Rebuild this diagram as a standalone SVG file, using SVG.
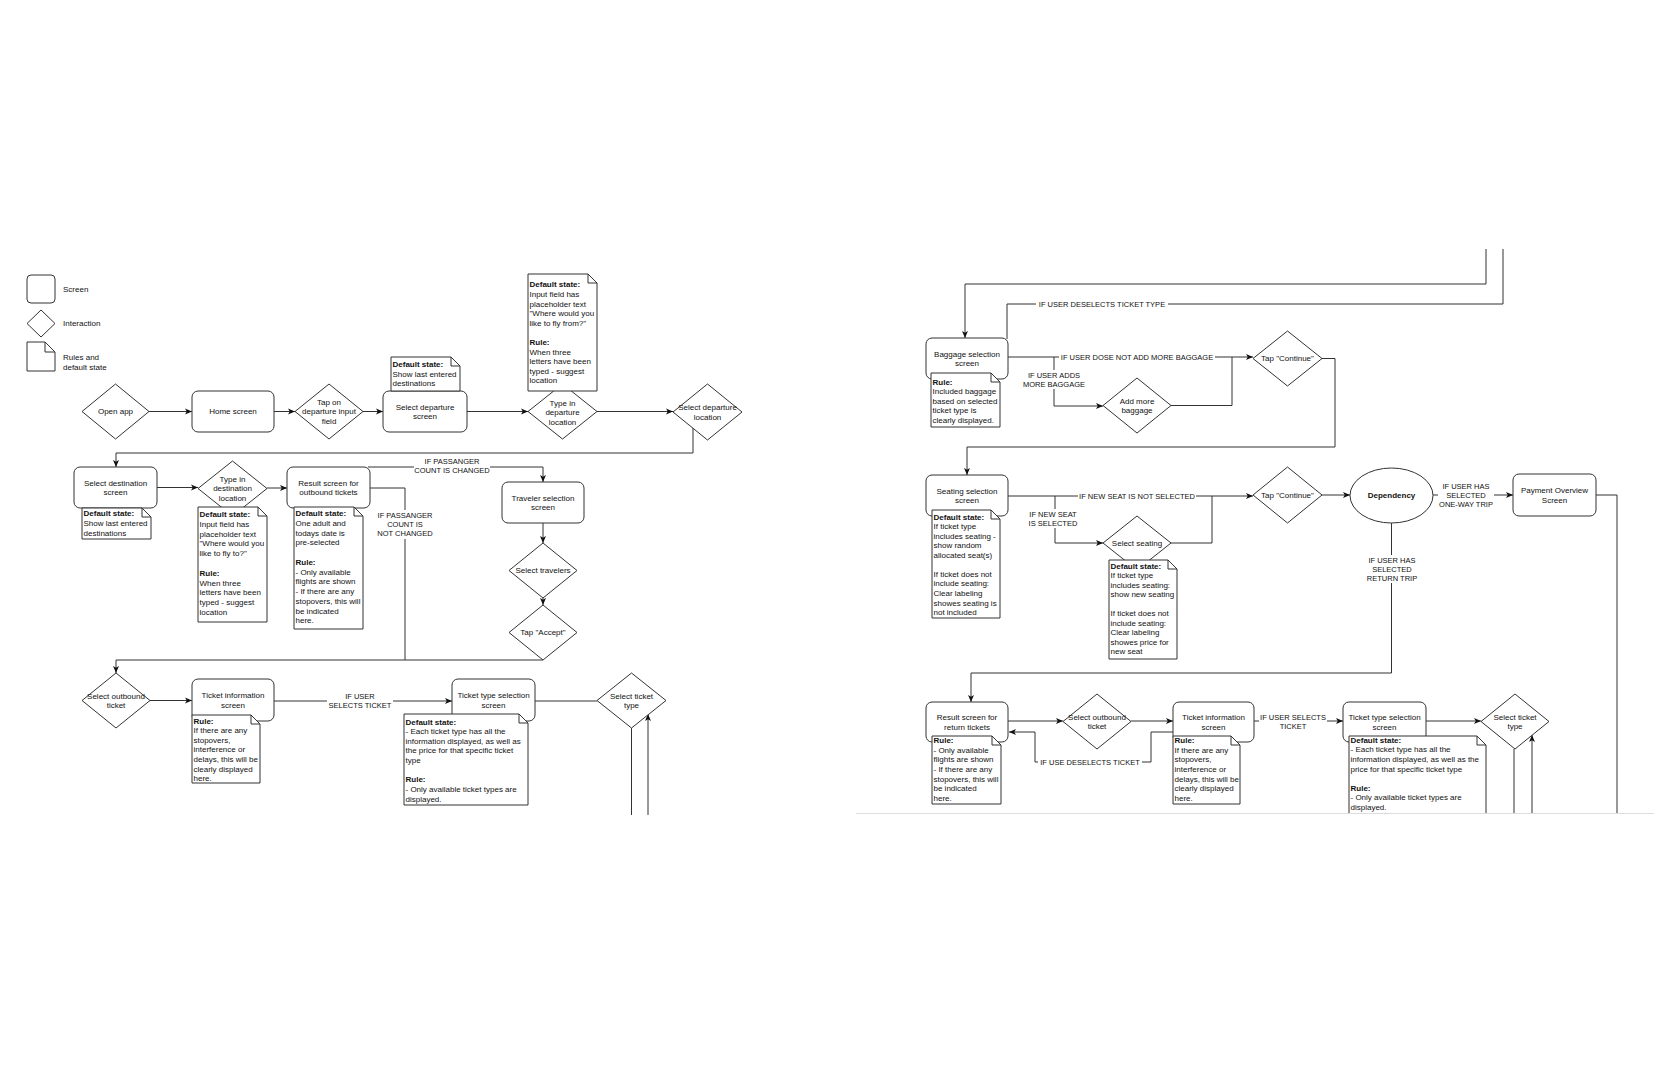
<svg xmlns="http://www.w3.org/2000/svg" width="1654" height="1080" viewBox="0 0 1654 1080">
<defs>
<style>
text{font-family:"Liberation Sans",Arial,Helvetica,sans-serif;fill:#111}
.t{font-size:8px;text-anchor:middle}
.n{font-size:8px}
.b{font-weight:bold}
.e{font-size:7.5px;text-anchor:middle}
.shape{fill:#fff;stroke:#333;stroke-width:1}
.ln{fill:none;stroke:#333;stroke-width:1}
.lbg{fill:#fff;stroke:none}
</style>
<marker id="arr" viewBox="0 0 8 8" refX="8" refY="4" markerWidth="7" markerHeight="7" orient="auto" markerUnits="userSpaceOnUse">
<path d="M0,0.6 L8,4 L0,7.4 L2,4 Z" fill="#111"/>
</marker>
</defs>
<rect width="1654" height="1080" fill="#fff"/>

<g id="legend">
<rect class="shape" x="27" y="275" width="28" height="28" rx="4"/>
<text class="n" x="63" y="292">Screen</text>
<polygon class="shape" points="41,310 55,323.5 41,337 27,323.5"/>
<text class="n" x="63" y="326">Interaction</text>
<path class="shape" d="M27,342H45L55,352V371H27Z"/>
<path class="ln" d="M45,342V352H55"/>
<text class="n" x="63" y="360">Rules and</text>
<text class="n" x="63" y="369.5">default state</text>
</g>

<g id="connectors">
<path class="ln" d="M149,411.5H192" marker-end="url(#arr)"/>
<path class="ln" d="M274,411.5H295" marker-end="url(#arr)"/>
<path class="ln" d="M363,411.5H383" marker-end="url(#arr)"/>
<path class="ln" d="M467,411.5H528" marker-end="url(#arr)"/>
<path class="ln" d="M597,411.5H673" marker-end="url(#arr)"/>
<path class="ln" d="M693,428V453H116V467" marker-end="url(#arr)"/>
<path class="ln" d="M157,487.5H198" marker-end="url(#arr)"/>
<path class="ln" d="M267,488H287" marker-end="url(#arr)"/>
<path class="ln" d="M368,467H543V482" marker-end="url(#arr)"/>
<path class="ln" d="M370,488H405V660"/>
<path class="ln" d="M543,523V543" marker-end="url(#arr)"/>
<path class="ln" d="M543,598V605" marker-end="url(#arr)"/>
<path class="ln" d="M543,660H116V673" marker-end="url(#arr)"/>
<path class="ln" d="M150,700.5H192" marker-end="url(#arr)"/>
<path class="ln" d="M274,701H452" marker-end="url(#arr)"/>
<path class="ln" d="M535,701H597"/>
<path class="ln" d="M631.5,728V815"/>
<path class="ln" d="M648,815V714" marker-end="url(#arr)"/>

<path class="ln" d="M1486,249V284H965V338" marker-end="url(#arr)"/>
<path class="ln" d="M1503,249V304H1007V339"/>
<path class="ln" d="M1008,357H1253" marker-end="url(#arr)"/>
<path class="ln" d="M1054,357V406H1103" marker-end="url(#arr)"/>
<path class="ln" d="M1171,405.5H1232V357"/>
<path class="ln" d="M1322,358.5H1335V447H967V475" marker-end="url(#arr)"/>
<path class="ln" d="M1008,496H1253" marker-end="url(#arr)"/>
<path class="ln" d="M1055,496V543H1103" marker-end="url(#arr)"/>
<path class="ln" d="M1171,543H1212V496"/>
<path class="ln" d="M1322,495H1350" marker-end="url(#arr)"/>
<path class="ln" d="M1433,495H1513" marker-end="url(#arr)"/>
<path class="ln" d="M1596,495H1617V813"/>
<path class="ln" d="M1391.5,523V673H971V702" marker-end="url(#arr)"/>
<path class="ln" d="M1008,721H1063" marker-end="url(#arr)"/>
<path class="ln" d="M1131,721H1173" marker-end="url(#arr)"/>
<path class="ln" d="M1173,732H1151V762H1035V732H1009" marker-end="url(#arr)"/>
<path class="ln" d="M1254,721H1343" marker-end="url(#arr)"/>
<path class="ln" d="M1426,721H1481" marker-end="url(#arr)"/>
<path class="ln" d="M1514,749V813"/>
<path class="ln" d="M1532,813V735" marker-end="url(#arr)"/>

<rect class="lbg" x="414" y="457" width="76" height="19"/>
<text class="e" x="452" y="464.3">IF PASSANGER</text>
<text class="e" x="452" y="473.3">COUNT IS CHANGED</text>
<rect class="lbg" x="376" y="510" width="58" height="29"/>
<text class="e" x="405" y="518.3">IF PASSANGER</text>
<text class="e" x="405" y="527.3">COUNT IS</text>
<text class="e" x="405" y="536.3">NOT CHANGED</text>
<rect class="lbg" x="327" y="692" width="66" height="19"/>
<text class="e" x="360" y="699.3">IF USER</text>
<text class="e" x="360" y="708.3">SELECTS TICKET</text>
<rect class="lbg" x="1036" y="299" width="132" height="10"/>
<text class="e" x="1102" y="306.6">IF USER DESELECTS TICKET TYPE</text>
<rect class="lbg" x="1059" y="352" width="156" height="10"/>
<text class="e" x="1137" y="359.8">IF USER DOSE NOT ADD MORE BAGGAGE</text>
<rect class="lbg" x="1022" y="370" width="64" height="19"/>
<text class="e" x="1054" y="377.6">IF USER ADDS</text>
<text class="e" x="1054" y="386.9">MORE BAGGAGE</text>
<rect class="lbg" x="1078" y="491" width="118" height="10"/>
<text class="e" x="1137" y="498.6">IF NEW SEAT IS NOT SELECTED</text>
<rect class="lbg" x="1028" y="509" width="50" height="19"/>
<text class="e" x="1053" y="516.6">IF NEW SEAT</text>
<text class="e" x="1053" y="525.9">IS SELECTED</text>
<rect class="lbg" x="1438" y="481" width="56" height="28"/>
<text class="e" x="1466" y="488.6">IF USER HAS</text>
<text class="e" x="1466" y="497.6">SELECTED</text>
<text class="e" x="1466" y="506.6">ONE-WAY TRIP</text>
<rect class="lbg" x="1366" y="555" width="52" height="28"/>
<text class="e" x="1392" y="562.6">IF USER HAS</text>
<text class="e" x="1392" y="571.9">SELECTED</text>
<text class="e" x="1392" y="580.9">RETURN TRIP</text>
<rect class="lbg" x="1038" y="757" width="104" height="10"/>
<text class="e" x="1090" y="764.6">IF USE DESELECTS TICKET</text>
<rect class="lbg" x="1259" y="712" width="68" height="19"/>
<text class="e" x="1293" y="719.9">IF USER SELECTS</text>
<text class="e" x="1293" y="728.6">TICKET</text>
</g>

<g id="open-app"><polygon class="shape" points="115.5,384 149,411.5 115.5,439 82,411.5"/><text class="t" x="115.5" y="414.3">Open app</text></g>
<g id="home-screen"><rect class="shape" x="192" y="391" width="82" height="41" rx="6"/><text class="t" x="233" y="414.3">Home screen</text></g>
<g id="tap-departure"><polygon class="shape" points="329,384 363,411.5 329,439 295,411.5"/><text class="t" x="329" y="404.7">Tap on</text><text class="t" x="329" y="414.3">departure input</text><text class="t" x="329" y="423.9">field</text></g>
<g id="select-departure-screen"><rect class="shape" x="383" y="391" width="84" height="41" rx="6"/><text class="t" x="425" y="409.5">Select departure</text><text class="t" x="425" y="419.1">screen</text></g>
<g id="type-departure"><polygon class="shape" points="562.5,384 597,411.5 562.5,439 528,411.5"/><text class="t" x="562.5" y="405.5">Type in</text><text class="t" x="562.5" y="415.1">departure</text><text class="t" x="562.5" y="424.7">location</text></g>
<g id="select-departure-location"><polygon class="shape" points="707.5,384 742,412 707.5,440 673,412"/><text class="t" x="707.5" y="410">Select departure</text><text class="t" x="707.5" y="419.6">location</text></g>

<g id="select-destination-screen"><rect class="shape" x="74" y="467" width="83" height="41" rx="6"/><text class="t" x="115.5" y="485.5">Select destination</text><text class="t" x="115.5" y="495.1">screen</text></g>
<g id="type-destination"><polygon class="shape" points="232.5,461 267,488.5 232.5,516 198,488.5"/><text class="t" x="232.5" y="481.7">Type in</text><text class="t" x="232.5" y="491.3">destination</text><text class="t" x="232.5" y="500.9">location</text></g>
<g id="result-outbound"><rect class="shape" x="287" y="467" width="83" height="41" rx="6"/><text class="t" x="328.5" y="485.5">Result screen for</text><text class="t" x="328.5" y="495.1">outbound tickets</text></g>
<g id="traveler-selection"><rect class="shape" x="502" y="482" width="82" height="41" rx="6"/><text class="t" x="543" y="500.5">Traveler selection</text><text class="t" x="543" y="510.1">screen</text></g>
<g id="select-travelers"><polygon class="shape" points="543,543 577,570.5 543,598 509,570.5"/><text class="t" x="543" y="573.3">Select travelers</text></g>
<g id="tap-accept"><polygon class="shape" points="543,605 577,632.5 543,660 509,632.5"/><text class="t" x="543" y="635.3">Tap "Accept"</text></g>

<g id="select-outbound-ticket"><polygon class="shape" points="116,673 150,700.5 116,728 82,700.5"/><text class="t" x="116" y="698.5">Select outbound</text><text class="t" x="116" y="708.1">ticket</text></g>
<g id="ticket-info-1"><rect class="shape" x="192" y="679" width="82" height="42" rx="6"/><text class="t" x="233" y="698">Ticket information</text><text class="t" x="233" y="707.6">screen</text></g>
<g id="ticket-type-1"><rect class="shape" x="452" y="679" width="83" height="42" rx="6"/><text class="t" x="493.5" y="698">Ticket type selection</text><text class="t" x="493.5" y="707.6">screen</text></g>
<g id="select-ticket-type-1"><polygon class="shape" points="631.5,673 666,700.5 631.5,728 597,700.5"/><text class="t" x="631.5" y="698.5">Select ticket</text><text class="t" x="631.5" y="708.1">type</text></g>

<g id="baggage-screen"><rect class="shape" x="926" y="338" width="82" height="41" rx="6"/><text class="t" x="967" y="356.5">Baggage selection</text><text class="t" x="967" y="366.1">screen</text></g>
<g id="add-baggage"><polygon class="shape" points="1137,378 1171,405.5 1137,433 1103,405.5"/><text class="t" x="1137" y="403.5">Add more</text><text class="t" x="1137" y="413.1">baggage</text></g>
<g id="tap-continue-1"><polygon class="shape" points="1287.5,331 1322,358.5 1287.5,386 1253,358.5"/><text class="t" x="1287.5" y="361.3">Tap "Continue"</text></g>
<g id="seating-screen"><rect class="shape" x="926" y="475" width="82" height="41" rx="6"/><text class="t" x="967" y="493.5">Seating selection</text><text class="t" x="967" y="503.1">screen</text></g>
<g id="select-seating"><polygon class="shape" points="1137,516 1171,543 1137,570 1103,543"/><text class="t" x="1137" y="545.8">Select seating</text></g>
<g id="tap-continue-2"><polygon class="shape" points="1287.5,467 1322,495 1287.5,523 1253,495"/><text class="t" x="1287.5" y="497.8">Tap "Continue"</text></g>
<g id="dependency"><ellipse class="shape" cx="1391.5" cy="495.5" rx="41.5" ry="27.5"/><text class="t b" x="1391.5" y="498.3">Dependency</text></g>
<g id="payment-overview"><rect class="shape" x="1513" y="474" width="83" height="42" rx="6"/><text class="t" x="1554.5" y="493">Payment Overview</text><text class="t" x="1554.5" y="502.6">Screen</text></g>
<g id="result-return"><rect class="shape" x="926" y="702" width="82" height="40" rx="6"/><text class="t" x="967" y="720">Result screen for</text><text class="t" x="967" y="729.6">return tickets</text></g>
<g id="select-outbound-ticket-2"><polygon class="shape" points="1097,694 1131,721.5 1097,749 1063,721.5"/><text class="t" x="1097" y="719.5">Select outbound</text><text class="t" x="1097" y="729.1">ticket</text></g>
<g id="ticket-info-2"><rect class="shape" x="1173" y="702" width="81" height="40" rx="6"/><text class="t" x="1213.5" y="720">Ticket information</text><text class="t" x="1213.5" y="729.6">screen</text></g>
<g id="ticket-type-2"><rect class="shape" x="1343" y="702" width="83" height="40" rx="6"/><text class="t" x="1384.5" y="720">Ticket type selection</text><text class="t" x="1384.5" y="729.6">screen</text></g>
<g id="select-ticket-type-2"><polygon class="shape" points="1515,694 1549,721.5 1515,749 1481,721.5"/><text class="t" x="1515" y="719.5">Select ticket</text><text class="t" x="1515" y="729.1">type</text></g>

<g id="note-select-departure"><path class="shape" d="M391,357H451L460,366V391H391Z"/><path class="ln" d="M451,357V366H460"/>
<text class="n" x="392.5" y="367.2"><tspan class="b">Default state:</tspan><tspan x="392.5" dy="9.6">Show last entered</tspan><tspan x="392.5" dy="9.6">destinations</tspan></text></g>
<g id="note-type-departure"><path class="shape" d="M528,274H588L597,283V391H528Z"/><path class="ln" d="M588,274V283H597"/>
<text class="n" x="529.5" y="287.3"><tspan class="b">Default state:</tspan><tspan x="529.5" dy="9.6">Input field has</tspan><tspan x="529.5" dy="9.6">placeholder text</tspan><tspan x="529.5" dy="9.6">"Where would you</tspan><tspan x="529.5" dy="9.6">like to fly from?"</tspan><tspan x="529.5" dy="19.2" class="b">Rule:</tspan><tspan x="529.5" dy="9.6">When three</tspan><tspan x="529.5" dy="9.6">letters have been</tspan><tspan x="529.5" dy="9.6">typed - suggest</tspan><tspan x="529.5" dy="9.6">location</tspan></text></g>
<g id="note-select-destination"><path class="shape" d="M82,508H142L151,517V539H82Z"/><path class="ln" d="M142,508V517H151"/>
<text class="n" x="83.5" y="516.3"><tspan class="b">Default state:</tspan><tspan x="83.5" dy="9.6">Show last entered</tspan><tspan x="83.5" dy="9.6">destinations</tspan></text></g>
<g id="note-type-destination"><path class="shape" d="M198,507H258L267,516V622H198Z"/><path class="ln" d="M258,507V516H267"/>
<text class="n" x="199.5" y="517"><tspan class="b">Default state:</tspan><tspan x="199.5" dy="9.8">Input field has</tspan><tspan x="199.5" dy="9.8">placeholder text</tspan><tspan x="199.5" dy="9.8">"Where would you</tspan><tspan x="199.5" dy="9.8">like to fly to?"</tspan><tspan x="199.5" dy="19.6" class="b">Rule:</tspan><tspan x="199.5" dy="9.8">When three</tspan><tspan x="199.5" dy="9.8">letters have been</tspan><tspan x="199.5" dy="9.8">typed - suggest</tspan><tspan x="199.5" dy="9.8">location</tspan></text></g>
<g id="note-result-outbound"><path class="shape" d="M294,507H354L363,516V629H294Z"/><path class="ln" d="M354,507V516H363"/>
<text class="n" x="295.5" y="516"><tspan class="b">Default state:</tspan><tspan x="295.5" dy="9.75">One adult and</tspan><tspan x="295.5" dy="9.75">todays date is</tspan><tspan x="295.5" dy="9.75">pre-selected</tspan><tspan x="295.5" dy="19.5" class="b">Rule:</tspan><tspan x="295.5" dy="9.75">- Only available</tspan><tspan x="295.5" dy="9.75">flights are shown</tspan><tspan x="295.5" dy="9.75">- If there are any</tspan><tspan x="295.5" dy="9.75">stopovers, this will</tspan><tspan x="295.5" dy="9.75">be indicated</tspan><tspan x="295.5" dy="9.75">here.</tspan></text></g>
<g id="note-ticket-info-1"><path class="shape" d="M192,715H251L260,724V783H192Z"/><path class="ln" d="M251,715V724H260"/>
<text class="n" x="193.5" y="723.5"><tspan class="b">Rule:</tspan><tspan x="193.5" dy="9.6">If there are any</tspan><tspan x="193.5" dy="9.6">stopovers,</tspan><tspan x="193.5" dy="9.6">interference or</tspan><tspan x="193.5" dy="9.6">delays, this will be</tspan><tspan x="193.5" dy="9.6">clearly displayed</tspan><tspan x="193.5" dy="9.6">here.</tspan></text></g>
<g id="note-ticket-type-1"><path class="shape" d="M404,714H519L528,723V805H404Z"/><path class="ln" d="M519,714V723H528"/>
<text class="n" x="405.5" y="724.5"><tspan class="b">Default state:</tspan><tspan x="405.5" dy="9.66">- Each ticket type has all the</tspan><tspan x="405.5" dy="9.66">information displayed, as well as</tspan><tspan x="405.5" dy="9.66">the price for that specific ticket</tspan><tspan x="405.5" dy="9.66">type</tspan><tspan x="405.5" dy="19.32" class="b">Rule:</tspan><tspan x="405.5" dy="9.66">- Only available ticket types are</tspan><tspan x="405.5" dy="9.66">displayed.</tspan></text></g>
<g id="note-baggage"><path class="shape" d="M931,373H991L1000,382V427H931Z"/><path class="ln" d="M991,373V382H1000"/>
<text class="n" x="932.5" y="384.5"><tspan class="b">Rule:</tspan><tspan x="932.5" dy="9.6">Included baggage</tspan><tspan x="932.5" dy="9.6">based on selected</tspan><tspan x="932.5" dy="9.6">ticket type is</tspan><tspan x="932.5" dy="9.6">clearly displayed.</tspan></text></g>
<g id="note-seating"><path class="shape" d="M932,510H991L1000,519V618H932Z"/><path class="ln" d="M991,510V519H1000"/>
<text class="n" x="933.5" y="519.5"><tspan class="b">Default state:</tspan><tspan x="933.5" dy="9.56">If ticket type</tspan><tspan x="933.5" dy="9.56">includes seating -</tspan><tspan x="933.5" dy="9.56">show random</tspan><tspan x="933.5" dy="9.56">allocated seat(s)</tspan><tspan x="933.5" dy="19.12">If ticket does not</tspan><tspan x="933.5" dy="9.56">include seating:</tspan><tspan x="933.5" dy="9.56">Clear labeling</tspan><tspan x="933.5" dy="9.56">showes seating is</tspan><tspan x="933.5" dy="9.56">not included</tspan></text></g>
<g id="note-select-seating"><path class="shape" d="M1109,560H1168L1177,569V659H1109Z"/><path class="ln" d="M1168,560V569H1177"/>
<text class="n" x="1110.5" y="568.8"><tspan class="b">Default state:</tspan><tspan x="1110.5" dy="9.52">If ticket type</tspan><tspan x="1110.5" dy="9.52">includes seating:</tspan><tspan x="1110.5" dy="9.52">show new seating</tspan><tspan x="1110.5" dy="19.04">If ticket does not</tspan><tspan x="1110.5" dy="9.52">include seating:</tspan><tspan x="1110.5" dy="9.52">Clear labeling</tspan><tspan x="1110.5" dy="9.52">showes price for</tspan><tspan x="1110.5" dy="9.52">new seat</tspan></text></g>
<g id="note-result-return"><path class="shape" d="M932,736H992L1001,745V804H932Z"/><path class="ln" d="M992,736V745H1001"/>
<text class="n" x="933.5" y="742.8"><tspan class="b">Rule:</tspan><tspan x="933.5" dy="9.7">- Only available</tspan><tspan x="933.5" dy="9.7">flights are shown</tspan><tspan x="933.5" dy="9.7">- If there are any</tspan><tspan x="933.5" dy="9.7">stopovers, this will</tspan><tspan x="933.5" dy="9.7">be indicated</tspan><tspan x="933.5" dy="9.7">here.</tspan></text></g>
<g id="note-ticket-info-2"><path class="shape" d="M1173,736H1231L1240,745V804H1173Z"/><path class="ln" d="M1231,736V745H1240"/>
<text class="n" x="1174.5" y="742.8"><tspan class="b">Rule:</tspan><tspan x="1174.5" dy="9.7">If there are any</tspan><tspan x="1174.5" dy="9.7">stopovers,</tspan><tspan x="1174.5" dy="9.7">interference or</tspan><tspan x="1174.5" dy="9.7">delays, this will be</tspan><tspan x="1174.5" dy="9.7">clearly displayed</tspan><tspan x="1174.5" dy="9.7">here.</tspan></text></g>
<g id="note-ticket-type-2"><path class="shape" d="M1349,736H1477L1486,745V818H1349Z"/><path class="ln" d="M1477,736V745H1486"/>
<text class="n" x="1350.5" y="742.8"><tspan class="b">Default state:</tspan><tspan x="1350.5" dy="9.6">- Each ticket type has all the</tspan><tspan x="1350.5" dy="9.6">information displayed, as well as the</tspan><tspan x="1350.5" dy="9.6">price for that specific ticket type</tspan><tspan x="1350.5" dy="19.2" class="b">Rule:</tspan><tspan x="1350.5" dy="9.6">- Only available ticket types are</tspan><tspan x="1350.5" dy="9.6">displayed.</tspan></text></g>

<g id="panel-edge">
<rect x="856" y="813.5" width="798" height="267" fill="#fff"/>
<path d="M856,813.5H1654" stroke="#ddd" stroke-width="1" fill="none"/>
</g>
</svg>
